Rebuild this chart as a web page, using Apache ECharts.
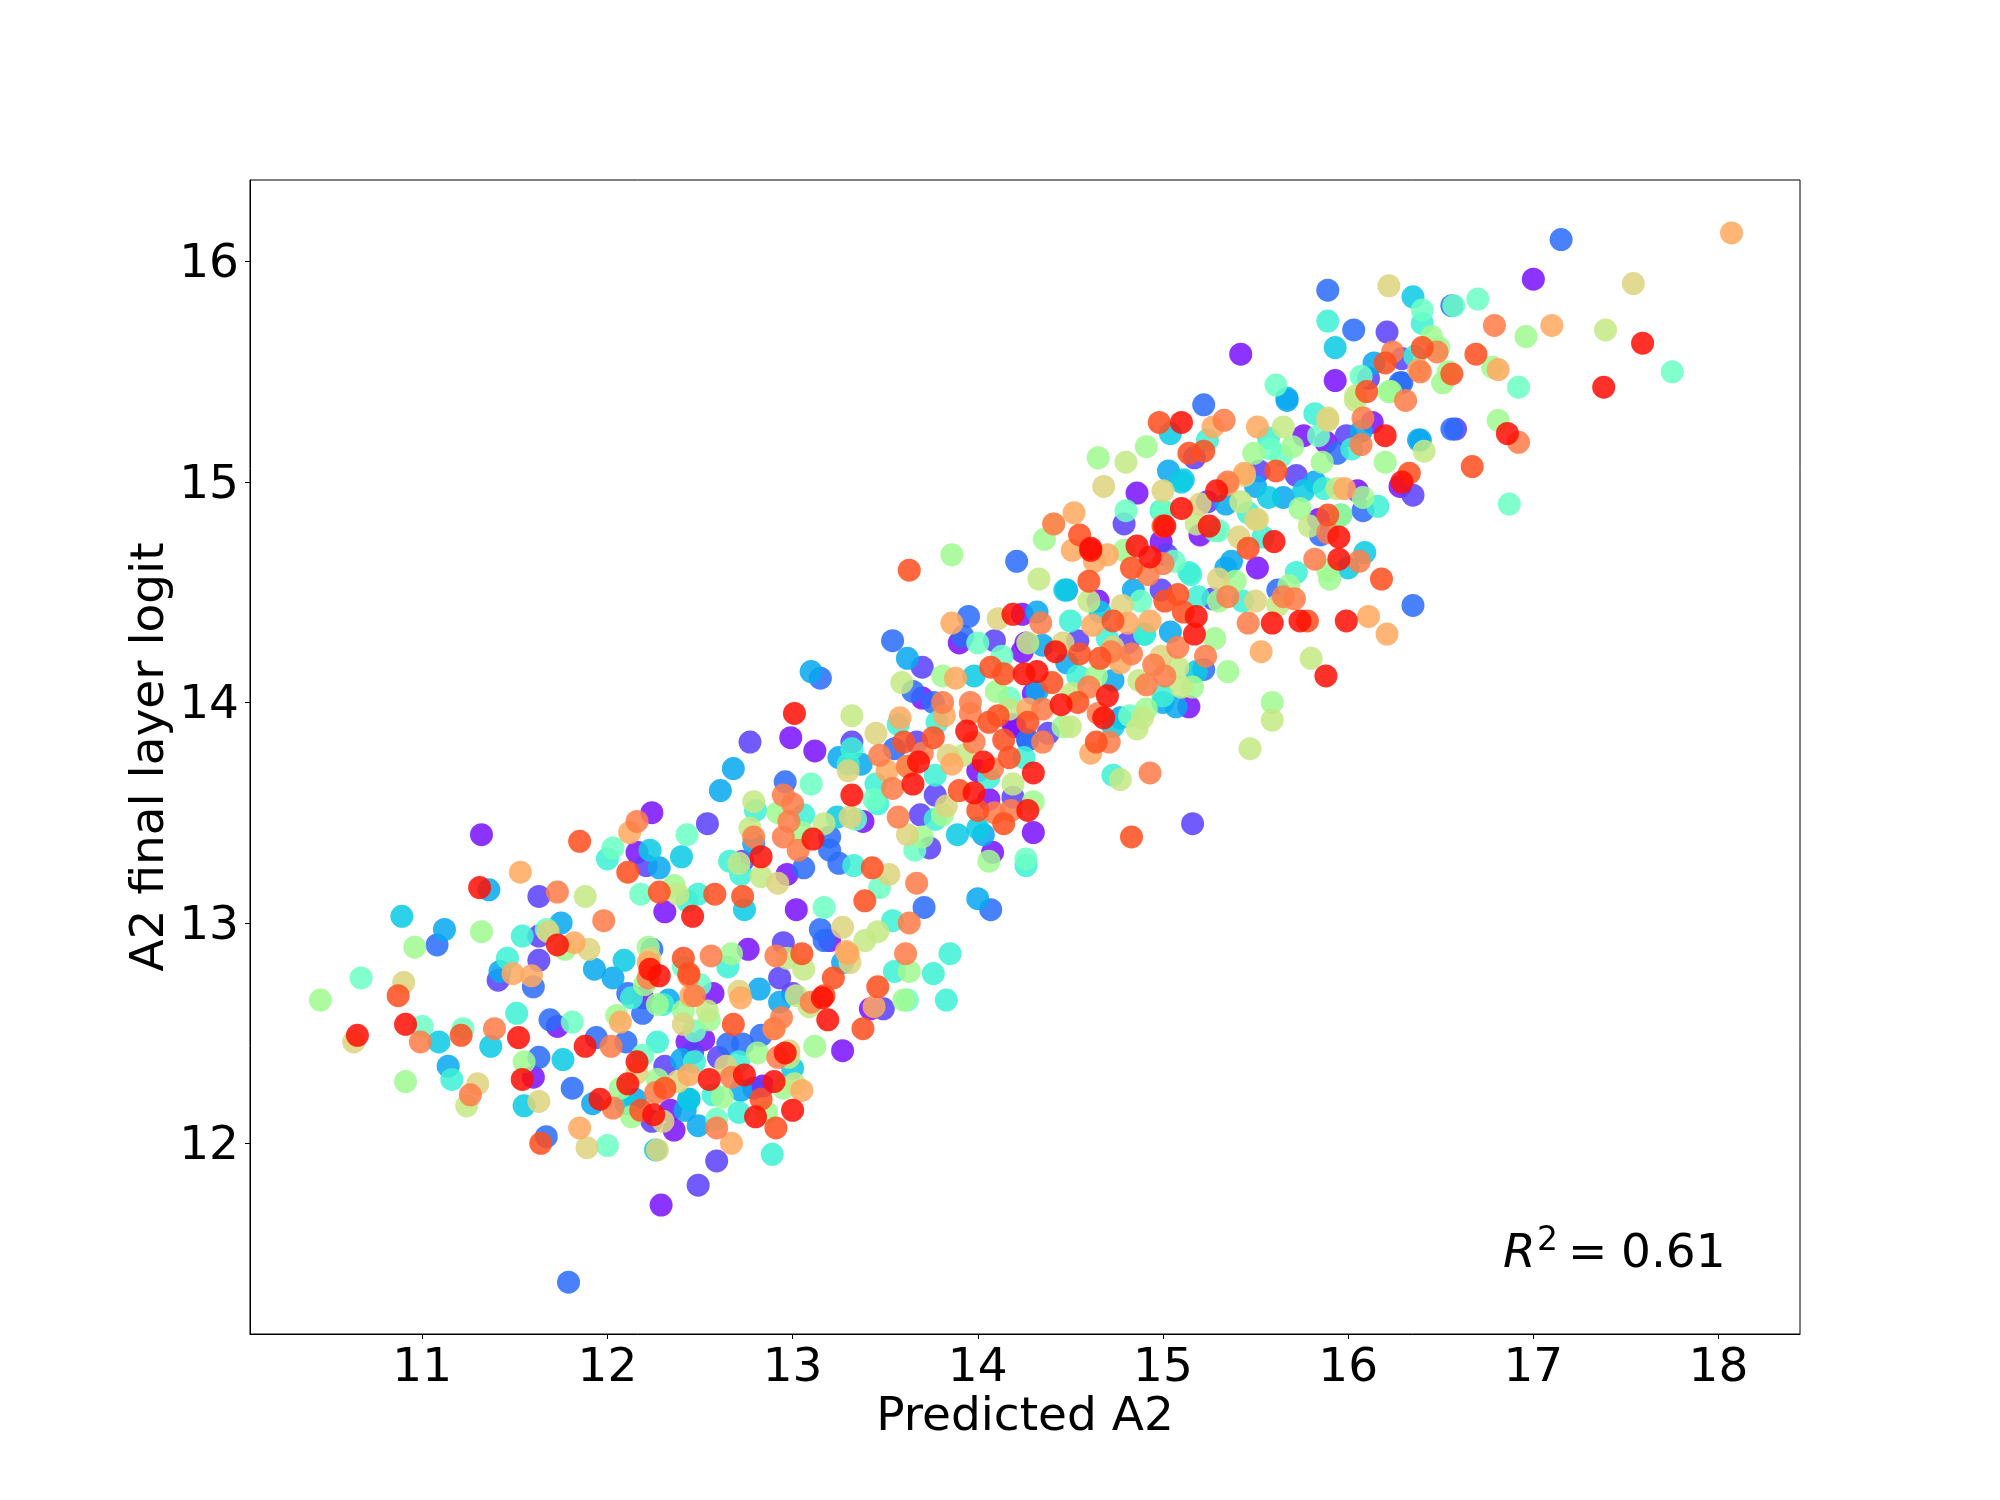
<!DOCTYPE html>
<html><head><meta charset="utf-8">
<script src="https://cdn.jsdelivr.net/npm/echarts@6/dist/echarts.min.js"></script>
<style>html,body{margin:0;padding:0;background:#fff}#c{width:2000px;height:1500px}</style></head>
<body><div id="c"></div>
<script>
const xTicks=[11,12,13,14,15,16,17,18];
const yTicks=[12,13,14,15,16];
const xTitle='Predicted A2', yTitle='A2 final layer logit';
const purple=[[11.32,13.40],[11.60,12.30],[11.73,12.53],[12.24,13.50],[12.16,13.32],[12.31,13.05],[12.19,12.66],[12.43,12.46],[12.29,11.72],[12.36,12.06],[12.34,12.15],[12.76,12.88],[12.97,13.22],[13.02,13.06],[12.99,13.84],[13.12,13.78],[13.20,12.92],[12.57,12.68],[12.52,12.47],[13.38,13.46],[13.27,12.42],[13.42,12.61],[12.84,12.26],[13.70,14.02],[13.90,14.27],[14.08,13.32],[14.30,13.41],[14.19,13.90],[14.06,13.56],[14.00,13.69],[14.20,13.89],[14.24,14.40],[14.26,14.27],[14.24,14.23],[14.30,14.04],[14.65,14.46],[14.99,14.73],[15.20,14.76],[14.86,14.95],[15.14,13.98],[15.42,15.58],[15.51,14.61],[15.76,15.21],[15.88,15.18],[15.84,14.83],[16.05,14.96],[16.13,15.27],[15.93,15.46],[16.28,14.98],[17.00,15.92]];
const indigo=[[11.41,12.74],[11.63,13.12],[11.63,12.94],[11.63,12.83],[12.21,13.26],[12.31,12.35],[12.24,12.10],[12.46,12.41],[12.54,13.45],[12.49,11.81],[12.59,11.92],[12.60,12.39],[12.73,13.28],[12.77,13.82],[12.79,12.25],[12.93,12.75],[13.00,12.68],[12.95,12.91],[13.32,13.82],[13.49,12.61],[13.67,13.82],[13.70,14.16],[13.74,13.34],[13.77,13.58],[13.69,13.49],[14.19,13.57],[14.09,14.28],[14.38,13.86],[14.54,14.28],[14.81,14.27],[14.79,14.81],[14.99,14.51],[15.02,14.67],[15.17,15.11],[15.16,13.45],[15.27,14.47],[15.24,14.91],[15.52,15.05],[15.72,15.03],[15.99,15.21],[16.21,15.68],[16.29,15.56],[16.11,15.47],[16.35,14.94],[16.58,15.24]];
const blue=[[11.79,11.37],[11.08,12.90],[11.67,12.03],[11.60,12.71],[11.69,12.56],[11.63,12.39],[11.81,12.25],[11.94,12.48],[12.10,12.46],[12.11,12.68],[12.19,12.59],[12.24,12.88],[12.65,12.45],[12.73,12.45],[12.83,12.49],[12.96,13.64],[13.06,13.25],[13.15,14.11],[13.15,12.97],[13.20,13.39],[13.20,13.33],[13.25,13.27],[13.17,12.92],[13.54,14.28],[13.55,13.79],[13.65,14.05],[13.71,13.07],[13.76,14.00],[13.92,14.30],[14.07,13.06],[13.95,14.39],[14.21,14.64],[14.27,13.83],[14.27,13.83],[15.22,15.35],[15.22,14.15],[15.62,14.51],[15.85,14.76],[15.94,15.13],[15.89,15.87],[16.03,15.69],[16.08,14.87],[16.29,15.45],[16.28,15.45],[16.35,14.44],[16.56,15.24],[16.56,15.80],[17.15,16.10]];
const sky=[[11.12,12.97],[11.36,13.15],[11.42,12.78],[11.14,12.35],[11.75,13.00],[11.92,12.18],[11.93,12.79],[12.03,12.75],[12.15,12.20],[12.28,13.25],[12.33,12.65],[12.40,12.38],[12.42,12.15],[12.44,12.20],[12.49,12.08],[12.68,13.70],[12.72,12.24],[12.61,13.60],[12.82,12.70],[12.79,13.36],[12.93,12.64],[13.10,14.14],[13.25,13.75],[13.37,13.72],[13.27,12.82],[13.62,14.20],[14.00,13.11],[14.03,13.40],[14.32,14.05],[14.35,14.26],[14.32,14.41],[14.48,14.51],[14.48,14.18],[14.77,13.93],[14.73,14.10],[14.84,14.51],[15.00,14.00],[15.04,14.32],[15.07,13.98],[15.37,14.64],[15.34,14.61],[15.03,15.05],[15.34,14.90],[15.50,14.98],[15.65,14.93],[15.82,15.00],[16.07,15.23],[15.67,15.37],[15.67,15.38],[16.14,15.54],[16.38,15.19],[16.39,15.19]];
const cyan=[[10.89,13.03],[11.09,12.46],[11.37,12.44],[11.55,12.17],[11.76,12.38],[12.09,12.83],[12.10,12.18],[12.23,13.33],[12.40,13.30],[12.44,12.20],[12.74,13.06],[12.26,11.97],[13.00,12.34],[13.24,13.48],[13.89,13.40],[13.98,14.12],[14.00,13.43],[14.66,14.41],[14.47,14.51],[14.73,13.89],[15.04,15.22],[15.11,15.01],[15.18,14.14],[15.10,15.00],[15.57,14.93],[15.76,14.96],[15.93,15.61],[15.96,14.85],[16.00,14.61],[16.09,14.68],[16.35,15.84],[14.90,14.31]];
const teal=[[11.16,12.29],[11.51,12.59],[11.46,12.84],[11.54,12.94],[12.00,13.29],[12.13,12.66],[12.27,12.46],[12.30,12.63],[12.43,13.10],[12.47,12.37],[12.49,13.13],[12.57,12.22],[12.65,12.80],[12.66,13.28],[12.71,12.14],[12.71,12.37],[12.72,13.22],[12.80,13.51],[12.89,11.95],[13.06,13.49],[13.32,13.79],[13.30,13.72],[13.33,13.26],[13.46,13.54],[13.45,13.63],[13.54,13.01],[13.57,13.90],[13.55,12.78],[13.76,12.77],[13.85,12.86],[13.83,12.65],[13.77,13.47],[13.78,13.91],[13.77,13.67],[14.06,13.66],[14.25,13.75],[14.26,13.26],[14.50,14.37],[14.54,14.12],[14.70,14.29],[14.73,13.67],[14.90,14.31],[15.19,14.48],[15.14,14.59],[15.15,14.58],[15.00,14.03],[14.99,14.87],[15.24,15.19],[15.46,14.86],[15.57,15.20],[15.72,14.59],[15.54,14.75],[15.82,15.31],[15.87,14.97],[15.89,15.73],[16.02,15.15],[16.16,14.89],[16.36,15.57],[16.40,15.72],[15.43,14.46]];
const mint=[[10.67,12.75],[11.00,12.53],[11.22,12.52],[11.67,12.97],[11.81,12.55],[12.03,13.34],[12.00,11.99],[12.18,13.13],[12.19,12.40],[12.41,12.80],[12.43,13.40],[12.47,12.51],[12.50,12.72],[12.59,12.11],[13.10,13.63],[13.17,13.07],[13.34,13.47],[13.44,13.56],[13.47,13.16],[13.66,13.33],[14.00,14.27],[13.62,12.65],[14.13,14.21],[14.17,14.02],[14.26,13.29],[14.82,13.94],[14.88,14.46],[15.06,14.64],[15.30,14.78],[15.28,14.78],[15.58,15.15],[15.64,15.12],[15.61,15.44],[15.84,15.21],[16.07,15.48],[16.40,15.78],[16.57,15.80],[16.70,15.83],[16.87,14.90],[16.92,15.43],[17.75,15.50],[14.80,14.87],[15.00,14.87]];
const green=[[10.45,12.65],[10.96,12.89],[10.91,12.28],[11.32,12.96],[11.55,12.37],[11.77,12.88],[12.05,12.58],[12.07,12.25],[12.13,12.12],[12.20,12.72],[12.22,12.89],[12.27,12.63],[12.27,12.29],[12.36,13.17],[12.41,12.60],[12.55,12.56],[12.62,12.21],[12.67,12.86],[12.81,12.41],[12.86,12.14],[12.95,12.25],[13.05,13.41],[12.92,13.50],[13.12,12.44],[13.60,12.65],[13.63,12.78],[13.70,13.39],[13.81,14.12],[13.81,13.49],[13.86,14.67],[14.06,13.28],[14.10,14.05],[14.30,13.55],[14.36,14.74],[14.46,13.89],[14.64,14.12],[14.65,15.11],[14.79,14.69],[14.91,13.97],[14.91,15.16],[15.16,14.07],[15.28,14.29],[15.35,14.14],[15.39,14.55],[15.30,14.46],[15.49,15.13],[15.59,14.00],[15.70,15.16],[15.74,14.88],[15.86,15.09],[15.90,14.56],[15.89,14.60],[15.96,14.85],[16.08,14.93],[16.20,15.09],[16.23,15.41],[16.22,15.41],[16.45,15.66],[16.49,15.61],[16.51,15.45],[16.54,15.50],[16.78,15.52],[16.81,15.28],[16.96,15.66],[15.68,14.53]];
const lime=[[11.24,12.17],[11.88,13.12],[12.38,13.13],[12.54,12.60],[12.71,13.27],[12.77,13.43],[12.79,13.55],[12.83,13.21],[13.02,12.67],[12.97,12.84],[13.01,12.27],[13.06,12.79],[13.09,12.62],[12.98,12.39],[13.17,13.45],[13.32,13.94],[13.39,12.92],[13.46,12.96],[13.59,14.09],[13.92,13.76],[14.19,13.63],[14.17,13.97],[14.27,14.27],[14.33,14.56],[14.50,13.89],[14.51,14.04],[14.60,14.46],[14.77,13.65],[14.86,13.88],[14.89,13.93],[14.87,14.10],[14.80,15.09],[15.08,14.16],[15.10,14.07],[15.18,14.81],[15.42,14.91],[15.62,14.44],[15.65,15.25],[15.80,14.20],[15.79,14.80],[15.94,14.97],[16.04,15.39],[16.04,15.37],[16.41,15.14],[17.39,15.69],[15.59,13.92],[15.47,13.79]];
const sand=[[10.90,12.73],[10.63,12.46],[11.30,12.27],[11.68,12.96],[11.63,12.19],[11.90,12.88],[11.89,11.98],[12.16,12.32],[12.23,12.84],[12.27,11.97],[12.30,12.10],[12.38,12.28],[12.41,12.54],[12.64,12.35],[12.71,12.69],[12.92,13.18],[12.98,12.42],[13.27,12.98],[13.31,12.82],[13.30,13.69],[13.31,13.48],[13.45,13.86],[13.52,13.22],[13.62,13.40],[13.84,13.76],[13.83,13.53],[14.11,14.38],[14.46,14.27],[14.41,14.81],[14.73,14.25],[14.78,14.44],[14.68,14.98],[14.99,14.21],[15.00,14.96],[15.30,14.56],[15.20,14.90],[15.41,14.75],[15.44,15.03],[15.50,14.46],[15.50,14.83],[15.51,14.83],[15.89,15.29],[15.89,15.28],[16.22,15.89],[17.54,15.90]];
const peach=[[11.49,12.77],[11.53,13.23],[11.59,12.76],[11.82,12.91],[11.85,12.07],[12.07,12.55],[12.12,13.41],[12.22,12.82],[12.45,12.67],[12.44,12.31],[12.67,12.00],[12.72,12.66],[12.90,12.52],[13.05,12.24],[13.30,12.86],[13.29,12.87],[13.44,12.62],[13.51,13.69],[13.58,13.93],[13.62,13.71],[13.82,13.94],[13.86,13.72],[13.86,14.36],[13.88,14.11],[14.27,13.97],[14.51,14.69],[14.52,14.86],[14.61,13.77],[14.62,14.35],[14.63,14.64],[14.70,14.67],[14.77,14.18],[14.81,14.36],[14.93,14.37],[15.35,14.99],[15.27,15.25],[15.51,15.25],[15.53,14.23],[15.98,14.97],[16.11,14.39],[16.21,14.31],[16.38,15.51],[16.81,15.51],[17.10,15.71],[18.07,16.13],[15.44,15.04]];
const orange=[[10.99,12.46],[11.26,12.22],[11.39,12.52],[11.73,13.14],[11.98,13.01],[12.02,12.44],[12.03,12.16],[12.16,13.46],[12.22,12.75],[12.26,12.23],[12.47,12.67],[12.44,12.76],[12.56,12.85],[12.67,12.30],[12.59,12.07],[12.79,13.39],[12.91,12.85],[12.94,12.57],[12.90,12.52],[12.92,12.39],[12.95,13.58],[12.95,13.39],[12.98,13.46],[13.00,13.54],[13.03,13.33],[13.10,12.64],[13.47,13.76],[13.54,13.61],[13.57,13.48],[13.61,12.86],[13.63,13.00],[13.62,13.71],[13.67,13.18],[13.70,13.77],[13.81,14.00],[13.96,13.95],[13.96,14.00],[13.98,13.82],[14.08,13.70],[14.09,13.50],[14.18,13.51],[14.34,14.36],[14.35,13.82],[14.35,13.97],[14.41,14.81],[14.60,14.07],[14.65,13.95],[14.72,14.23],[14.83,14.22],[14.71,13.82],[14.93,13.68],[14.92,14.58],[14.91,14.08],[14.95,14.17],[15.00,14.63],[15.01,14.12],[15.08,14.25],[15.23,14.21],[15.35,15.00],[15.33,15.28],[15.46,14.36],[15.35,14.48],[15.65,14.48],[15.71,14.47],[15.82,14.65],[15.89,14.77],[16.06,14.64],[16.07,15.17],[16.08,15.29],[16.31,15.37],[16.24,15.59],[16.39,15.50],[16.48,15.59],[16.79,15.71],[16.92,15.18]];
const vermilion=[[10.87,12.67],[11.21,12.49],[11.64,12.00],[11.85,13.37],[12.11,13.23],[12.18,12.15],[12.28,13.14],[12.41,12.84],[12.31,12.25],[12.44,12.77],[12.58,13.13],[12.68,12.54],[12.73,13.12],[12.83,12.20],[12.91,12.07],[13.05,12.86],[13.17,12.67],[13.22,12.75],[13.38,12.52],[13.39,13.10],[13.43,13.25],[13.46,12.71],[13.60,13.82],[13.63,14.60],[13.90,13.60],[13.76,13.84],[14.00,13.51],[14.07,14.16],[14.06,13.91],[14.11,13.94],[14.14,13.45],[14.14,13.83],[14.14,14.13],[14.17,13.75],[14.27,13.91],[14.40,14.09],[14.54,14.00],[14.55,14.76],[14.55,14.22],[14.60,14.55],[14.64,13.82],[14.66,14.20],[14.73,14.37],[14.83,14.61],[14.83,13.39],[14.98,15.27],[15.01,14.46],[15.08,14.49],[15.11,14.41],[15.14,15.13],[15.22,15.14],[15.00,14.80],[15.61,15.05],[15.78,14.37],[15.89,14.85],[16.10,15.41],[16.18,14.56],[16.20,15.54],[16.33,15.04],[16.40,15.61],[16.56,15.49],[16.69,15.58],[16.67,15.07],[15.46,14.70]];
const red=[[10.65,12.49],[10.91,12.54],[11.31,13.16],[11.52,12.48],[11.54,12.29],[11.73,12.90],[11.88,12.44],[11.96,12.20],[12.11,12.27],[12.16,12.37],[12.23,12.79],[12.28,12.76],[12.25,12.13],[12.46,13.03],[12.55,12.29],[12.74,12.31],[12.80,12.12],[12.83,13.30],[12.90,12.28],[12.96,12.41],[13.00,12.15],[13.01,13.95],[13.11,13.38],[13.16,12.66],[13.19,12.56],[13.32,13.58],[13.65,13.63],[13.68,13.73],[13.94,13.87],[13.98,13.59],[14.03,13.73],[14.27,13.51],[14.30,13.68],[14.19,14.40],[14.25,14.13],[14.32,14.14],[14.42,14.23],[14.45,13.99],[14.61,14.70],[14.61,14.69],[14.68,13.93],[14.70,14.03],[14.86,14.71],[14.93,14.66],[15.10,15.27],[15.18,14.39],[15.17,14.31],[15.25,14.80],[15.29,14.96],[15.10,14.88],[15.01,14.80],[15.59,14.36],[15.60,14.73],[15.74,14.37],[15.88,14.12],[15.95,14.75],[15.95,14.65],[15.99,14.37],[16.20,15.21],[16.29,15.00],[16.86,15.22],[17.38,15.43],[17.59,15.63]];
const r2Parts=['R','2','=','0.61'];
const groups=[[purple,'#7a12ff'],[indigo,'#5a40fb'],[blue,'#2a6cfa'],[sky,'#08a8f0'],[cyan,'#0ccbe4'],[teal,'#3ef0d4'],[mint,'#6cffc4'],[green,'#9ff992'],[lime,'#c4e985'],[sand,'#dcd47e'],[peach,'#ffa95f'],[orange,'#ff7d48'],[vermilion,'#ff4f20'],[red,'#ff0f05']];
const fam='"DejaVu Sans"';
const chart=echarts.init(document.getElementById('c'),null,{renderer:'canvas'});
chart.setOption({
 animation:false,backgroundColor:'#fff',
 grid:{left:250,top:180,width:1550,height:1154,show:true,borderColor:'#000',borderWidth:1,backgroundColor:'transparent'},
 xAxis:{type:'value',min:10.07,max:18.44,name:xTitle,nameLocation:'middle',nameGap:60,nameMoveOverlap:false,
  nameTextStyle:{fontFamily:fam,fontSize:47,color:'#000'},splitLine:{show:false},
  axisLine:{show:true,onZero:false,lineStyle:{color:'#000',width:1}},
  axisTick:{show:true,length:5,inside:false,customValues:xTicks,lineStyle:{color:'#000',width:1}},
  axisLabel:{show:true,customValues:xTicks,margin:11,fontFamily:fam,fontSize:47,color:'#000',hideOverlap:false,showMinLabel:true,showMaxLabel:true}},
 yAxis:{type:'value',min:11.135,max:16.37,name:yTitle,nameLocation:'middle',nameGap:76,nameMoveOverlap:false,
  nameTextStyle:{fontFamily:fam,fontSize:47,color:'#000'},splitLine:{show:false},
  axisLine:{show:true,onZero:false,lineStyle:{color:'#000',width:1}},
  axisTick:{show:true,length:5,inside:false,customValues:yTicks,lineStyle:{color:'#000',width:1}},
  axisLabel:{show:true,customValues:yTicks,margin:11,formatter:'{a|{value}}',rich:{a:{fontFamily:fam,fontSize:47,color:'#000',padding:[7,0,0,0]}},hideOverlap:false}},
 series:groups.map(([d,c])=>({type:'scatter',data:d,symbol:'circle',symbolSize:23,silent:true,itemStyle:{color:c,opacity:0.86,borderWidth:0}})),
 graphic:[
  {type:'text',left:1503,top:1231,style:{text:r2Parts[0],font:'italic 47px "DejaVu Sans"',fill:'#000'}},
  {type:'text',left:1537,top:1225,style:{text:r2Parts[1],font:'33px "DejaVu Sans"',fill:'#000'}},
  {type:'text',left:1568,top:1231,style:{text:r2Parts[2],font:'47px "DejaVu Sans"',fill:'#000'}},
  {type:'text',left:1621,top:1231,style:{text:r2Parts[3],font:'47px "DejaVu Sans"',fill:'#000'}}
 ]
});
</script></body></html>
